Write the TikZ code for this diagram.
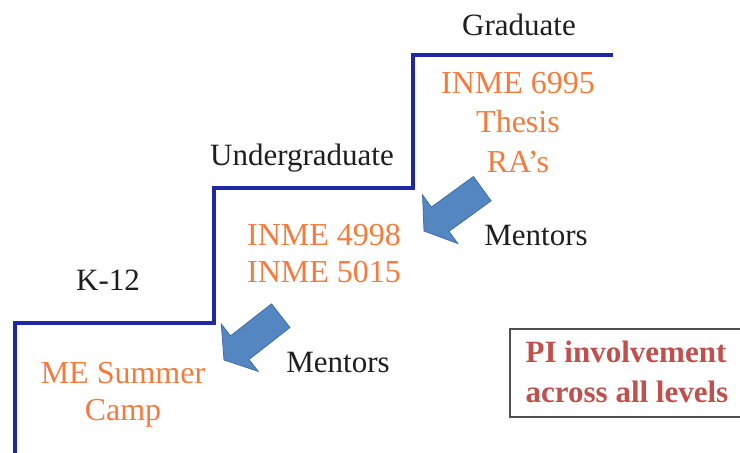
\documentclass[tikz,border=0pt]{standalone}
\usepackage{fontspec}
\setmainfont{Liberation Serif}
\definecolor{stairblue}{RGB}{30,40,165}
\definecolor{txtorange}{RGB}{244,123,62}
\definecolor{txtred}{RGB}{192,80,77}
\definecolor{txtdark}{RGB}{30,30,30}
\definecolor{arrowfill}{RGB}{84,134,194}
\definecolor{arrowedge}{RGB}{65,110,165}
\definecolor{boxedge}{RGB}{80,80,80}
\begin{document}
\begin{tikzpicture}[x=1pt,y=-1pt,
  stair/.style={draw=stairblue,line width=3.2pt,line join=miter},
  level/.style={anchor=base,inner sep=0pt,text=txtdark,font=\fontsize{31}{36}\selectfont},
  course/.style={anchor=base,inner sep=0pt,text=txtorange,font=\fontsize{32}{36}\selectfont},
  pitext/.style={anchor=base,inner sep=0pt,text=txtred,font=\fontsize{31}{34}\selectfont\bfseries},
  blockarrow/.style={fill=arrowfill,draw=arrowedge,line width=0.8pt,line join=miter}]
\useasboundingbox (0,0) rectangle (740,453);
\clip (0,0) rectangle (740,453);
% staircase
\coordinate (s0) at (15,460);
\coordinate (s1) at (15,323);
\coordinate (s2) at (214,323);
\coordinate (s3) at (214,188);
\coordinate (s4) at (413,188);
\coordinate (s5) at (413,55);
\coordinate (s6) at (613,55);
\draw[stair] (s0) -- (s1) -- (s2) -- (s3) -- (s4) -- (s5) -- (s6);
% level labels
\node[level] (grad) at (519,35) {Graduate};
\node[level] (under) at (302,165) {Undergraduate};
\node[level] (k12) at (108,290) {K-12};
% course labels
\node[course] (g1) at (518,93) {INME 6995};
\node[course] (g2) at (518,132) {Thesis};
\node[course] (g3) at (518,172) {RA’s};
\node[course] (u1) at (324,245) {INME 4998};
\node[course] (u2) at (324,282) {INME 5015};
\node[course] (k1) at (123,383) {ME Summer};
\node[course] (k2) at (123,420) {Camp};
% mentors
\node[level] (m1) at (536,245) {Mentors};
\node[level] (m2) at (338,372) {Mentors};
% block arrows
\begin{scope}[shift={(424,231)},rotate=216]
\filldraw[blockarrow] (0,0) -- (-20,30) -- (-20,15) -- (-72,15) -- (-72,-15) -- (-20,-15) -- (-20,-30) -- cycle;
\end{scope}
\begin{scope}[shift={(224,360)},rotate=218]
\filldraw[blockarrow] (0,0) -- (-20,30) -- (-20,15) -- (-72,15) -- (-72,-15) -- (-20,-15) -- (-20,-30) -- cycle;
\end{scope}
% PI box
\draw[boxedge,line width=2pt] (510,329) rectangle (760,417);
\node[pitext] (pi1) at (626,362) {PI involvement};
\node[pitext] (pi2) at (627,402) {across all levels};
\end{tikzpicture}
\end{document}
